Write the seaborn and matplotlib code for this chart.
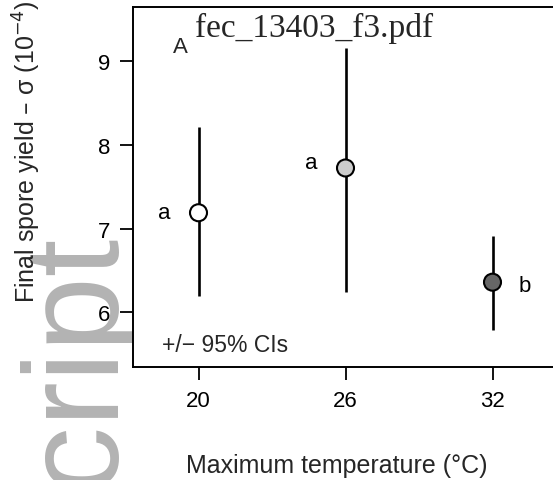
import matplotlib
matplotlib.use("Agg")
import matplotlib.pyplot as plt
import seaborn as sns
import pandas as pd

# data
temperatures = [20, 26, 32]
means = [7.19, 7.725, 6.36]
ci_low = [6.20, 6.24, 5.79]
ci_high = [8.21, 9.155, 6.91]
fills = ["#ffffff", "#cccccc", "#666666"]
letters = ["a", "a", "b"]
xticks = [20, 26, 32]
yticks = [6, 7, 8, 9]

sns.set_theme(style="white")
plt.rcParams["font.family"] = ["Liberation Sans", "DejaVu Sans"]

W, H = 553, 481
fig = plt.figure(figsize=(W / 100, H / 100), dpi=100)
fig.patch.set_facecolor("white")

def fx(px):
    return px / W

def fy(py):
    return 1 - py / H

left, right, top, bottom = 133, 570, 8, 368
ax = fig.add_axes([fx(left), fy(bottom), fx(right - left), (bottom - top) / H])
ax.set_facecolor("white")
ax.set_zorder(1)

df = pd.DataFrame({"temp": temperatures, "mean": means, "lo": ci_low,
                   "hi": ci_high, "grp": [str(t) for t in temperatures]})

ax.vlines(df["temp"], df["lo"], df["hi"], color="black", lw=1.9, zorder=2)
sns.scatterplot(data=df, x="temp", y="mean", hue="grp",
                palette=dict(zip(df["grp"], fills)), s=150,
                edgecolor="black", linewidth=1.5, legend=False, ax=ax, zorder=3)

# x scale: 24.5 px per degree, 20 at 198.5
ppx = 24.5
ax.set_xlim(20 - (198.5 - left) / ppx, 20 + (right - 198.5) / ppx)
ppy = 83.67
ax.set_ylim(9 - (bottom - 62.3) / ppy, 9 + (62.3 - top) / ppy)

ax.set_xticks(xticks)
ax.set_xticklabels([str(t) for t in xticks])
ax.set_yticks(yticks)
ax.set_yticklabels([str(t) for t in yticks])
ax.tick_params(axis="both", which="major", direction="out", length=9.5,
               width=1.3, color="black", labelsize=16, labelcolor="black",
               bottom=True, left=True)
ax.tick_params(axis="x", pad=7)
ax.tick_params(axis="y", pad=7)
for sp in ax.spines.values():
    sp.set_visible(True)
    sp.set_color("black")
    sp.set_linewidth(1.4)
ax.set_xlabel("")
ax.set_ylabel("")

# letters
offsets = [(-1.4, 0.0), (-1.4, 0.07), (1.3, -0.04)]
for t, m, l, (dx, dy) in zip(temperatures, means, letters, offsets):
    ax.text(t + dx, m + dy, l, fontsize=16, ha="center", va="center", color="black")

ax.text((180 - left) / (right - left), (bottom - 48) / (bottom - top), "A",
        transform=ax.transAxes, fontsize=16, ha="center", va="center")
ax.text((162 - left) / (right - left), (bottom - 345) / (bottom - top),
        "+/\u2212 95% CIs", transform=ax.transAxes, fontsize=16.5,
        ha="left", va="center")

# axis labels
fig.text(fx(337), fy(466), "Maximum temperature (\u00b0C)", fontsize=18,
         ha="center", va="center")
fig.text(fx(27), fy(152), "Final spore yield \u2013 \u03c3 (10$^{\u22124}$)",
         fontsize=18, rotation=90, ha="center", va="center")

# watermark & file name
fig.text(fx(108), fy(228), "Manuscript", fontsize=97, color="#b3b3b3",
         rotation=90, rotation_mode="anchor", ha="right", va="baseline",
         zorder=-5)
fig.text(fx(195), fy(37), "fec_13403_f3.pdf", fontsize=24,
         family=["Liberation Serif", "DejaVu Serif"], ha="left",
         va="baseline", zorder=10)

fig.savefig("out.png", dpi=100, facecolor="white")
